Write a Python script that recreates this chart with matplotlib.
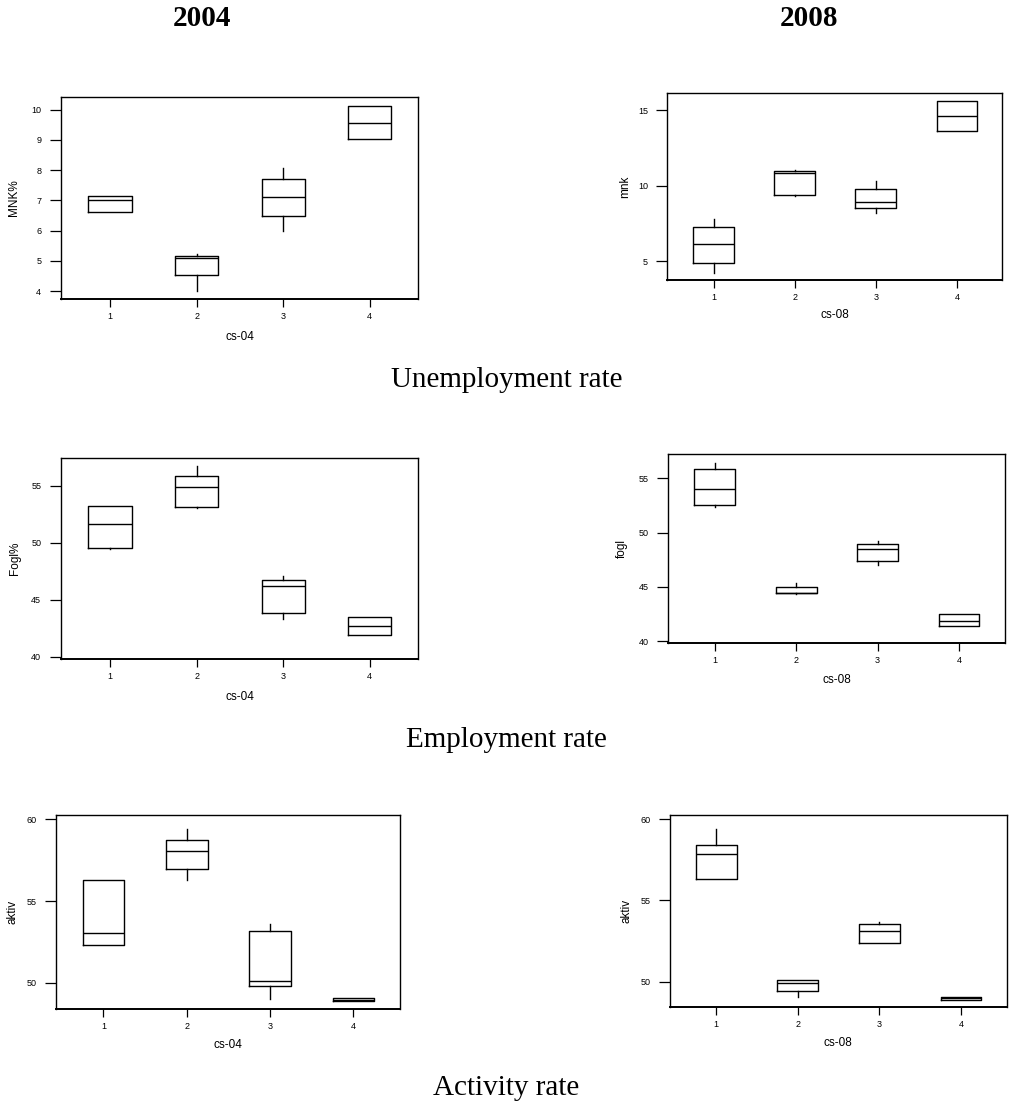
import matplotlib
matplotlib.use("Agg")
import matplotlib.pyplot as plt

plt.rcParams['font.family'] = ['Liberation Sans', 'DejaVu Sans']

## five-number summaries per cluster: (min, q1, median, q3, max)
clusters = [1, 2, 3, 4]

mnk_04 = [(6.62, 6.62, 7.00, 7.15, 7.15),
          (4.00, 4.55, 5.08, 5.17, 5.22),
          (5.99, 6.49, 7.10, 7.72, 8.06),
          (9.02, 9.02, 9.57, 10.12, 10.12)]

mnk_08 = [(4.22, 4.87, 6.15, 7.28, 7.77),
          (9.30, 9.36, 10.84, 10.97, 11.04),
          (8.17, 8.52, 8.94, 9.78, 10.29),
          (13.60, 13.60, 14.60, 15.60, 15.64)]

fogl_04 = [(49.50, 49.55, 51.69, 53.20, 53.20),
           (53.10, 53.18, 54.88, 55.90, 56.76),
           (43.34, 43.80, 46.19, 46.77, 47.10),
           (41.90, 41.90, 42.70, 43.50, 43.50)]

fogl_08 = [(52.36, 52.52, 54.02, 55.83, 56.44),
           (44.30, 44.40, 44.40, 45.02, 45.34),
           (47.02, 47.42, 48.46, 48.92, 49.20),
           (41.36, 41.36, 41.88, 42.48, 42.48)]

aktiv_04 = [(52.30, 52.30, 53.07, 56.28, 56.28),
            (56.28, 56.95, 58.07, 58.74, 59.37),
            (49.00, 49.84, 50.10, 53.20, 53.60),
            (48.88, 48.88, 48.98, 49.08, 49.08)]

aktiv_08 = [(56.30, 56.30, 57.87, 58.41, 59.40),
            (49.04, 49.41, 49.92, 50.08, 50.08),
            (52.38, 52.38, 53.10, 53.57, 53.65),
            (48.90, 48.90, 49.00, 49.08, 49.08)]

W, H = 1013, 1106
fig = plt.figure(figsize=(W/100, H/100), dpi=100, facecolor='w')

# panel layout in pixels: left, right, top, bottom, ylim, yticks, ylabel, xlabel, ylab offset, xlab offset
panels = [
 (mnk_04,   60.7, 418.3,  96.7,  299.0, (3.74, 10.43), range(4, 11),        'MNK%',  'cs-04', 46.7, 38.0),
 (mnk_08,  667.3, 1002.3, 92.7,  280.3, (3.72, 16.17), [5, 10, 15],         'mnk',   'cs-08', 42.0, 35.0),
 (fogl_04,  60.7, 418.3, 458.0,  659.0, (39.8, 57.46), [40, 45, 50, 55],    'Fogl%', 'cs-04', 45.7, 38.0),
 (fogl_08, 668.3, 1004.7, 454.0, 643.3, (39.79, 57.24), [40, 45, 50, 55],   'fogl',  'cs-08', 46.6, 36.7),
 (aktiv_04, 56.0, 400.0, 815.3, 1009.0, (48.41, 60.23), [50, 55, 60],       'aktiv', 'cs-04', 43.3, 36.0),
 (aktiv_08, 669.7, 1006.7, 815.0, 1007.0, (48.45, 60.25), [50, 55, 60],     'aktiv', 'cs-08', 43.7, 35.7),
]

for data, l, r, t, b, ylim, yt, ylab, xlab, yoff, xoff in panels:
    ax = fig.add_axes([l/W, 1 - b/H, (r - l)/W, (b - t)/H])
    stats = [dict(whislo=d[0], q1=d[1], med=d[2], q3=d[3], whishi=d[4], fliers=[])
             for d in data]
    ax.bxp(stats, positions=clusters, widths=0.5, showcaps=False,
           boxprops=dict(color='k', lw=1.0),
           medianprops=dict(color='k', lw=1.0),
           whiskerprops=dict(color='k', lw=1.0))
    ax.set_xlim(0.43, 4.56)
    ax.set_ylim(*ylim)
    ax.set_xticks(clusters)
    ax.set_xticklabels([str(c) for c in clusters])
    ax.set_yticks(list(yt))
    ax.tick_params(axis='both', labelsize=6.5, colors='k', width=0.9)
    ax.tick_params(axis='y', length=8, pad=6)
    ax.tick_params(axis='x', length=5.4, pad=4)
    for s in ax.spines.values():
        s.set_linewidth(1.0)
    ax.spines['bottom'].set_linewidth(1.4)
    ax.set_ylabel(ylab, fontsize=8.5, va='center')
    ax.set_xlabel(xlab, fontsize=8.5, va='center')
    ax.yaxis.set_label_coords(-yoff/(r - l), 0.5)
    ax.xaxis.set_label_coords(0.5, -xoff/(b - t))

serif = ['Liberation Serif', 'DejaVu Serif']
fig.text(202/W, 1 - 19/H, '2004', ha='center', va='center', fontsize=21,
         fontweight='bold', family=serif)
fig.text(809/W, 1 - 19/H, '2008', ha='center', va='center', fontsize=21,
         fontweight='bold', family=serif)
fig.text(0.5, 1 - 387/H, 'Unemployment rate', ha='center', va='baseline',
         fontsize=21, family=serif)
fig.text(0.5, 1 - 747/H, 'Employment rate', ha='center', va='baseline',
         fontsize=21, family=serif)
fig.text(0.5, 1 - 1095/H, 'Activity rate', ha='center', va='baseline',
         fontsize=21, family=serif)

plt.savefig('out.png', dpi=100)
